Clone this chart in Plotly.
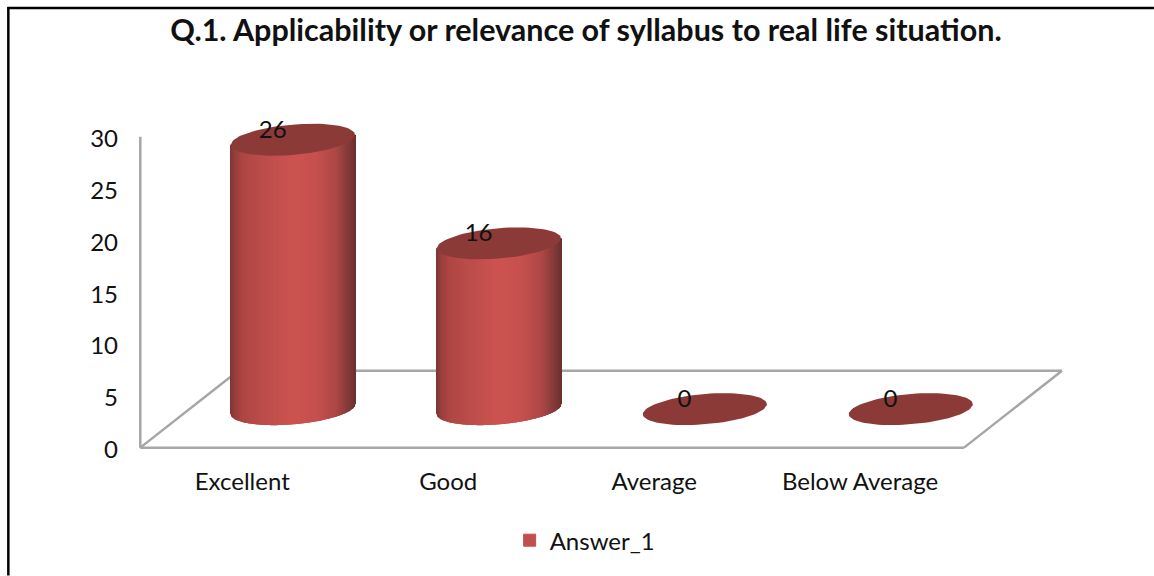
"""
Q.1 cylinder chart
"""

import numpy as np
import plotly.graph_objects as go

categories = ['Excellent', 'Good', 'Average', 'Below Average']
answer_1 = [26, 16, 0, 0]
y_ticks = [0, 5, 10, 15, 20, 25, 30]
title = 'Q.1. Applicability or relevance of syllabus to real life situation.'
series_name = 'Answer_1'

W, H = 1154, 576
FONT = 'Lato'
GREY = '#a6a6a6'
TEXT = '#111111'

#> Pixel scale of the axes
PX_X = 206.0   # one category
PX_Y = 10.37   # one unit
X0_PX = 140 + 0.5 * PX_X  # category 0
Y0_PX = 448

#> Fake depth of the floor, in data units
DX = 98 / PX_X
DY = 77 / PX_Y

#> Cylinder ellipse, in data units
RX = 62 / PX_X
SLANT = 5 / PX_Y
RY = 15.2 / PX_Y
CX_NUDGE = 0.7 / PX_X

x_range = [-0.55, 4.0]
y_range = [-1.0, 32.0]

fig = go.Figure()

#> Shading across the cylinder, left edge to right edge
SHADE_U = [-1.0, -0.93, -0.8, -0.4, 0.0, 0.4, 0.7, 0.9, 1.0]
SHADE_R = [125, 150, 175, 190, 205, 197, 172, 132, 108]
SHADE_G = [55, 62, 70, 78, 83, 80, 71, 58, 50]
SHADE_B = [55, 60, 68, 75, 80, 78, 69, 56, 48]


def shade(u):
    return 'rgb(%d,%d,%d)' % (np.interp(u, SHADE_U, SHADE_R),
                              np.interp(u, SHADE_U, SHADE_G),
                              np.interp(u, SHADE_U, SHADE_B))


for i, v in enumerate(answer_1):
    cx = i + DX / 2 + CX_NUDGE
    cy = DY / 2
    if v > 0:
        us = np.linspace(-1, 1, 125)
        base = cy + SLANT * us - RY * np.sqrt(1 - us ** 2)
        top = cy + v + SLANT * us
        fig.add_trace(go.Bar(
            x=cx + us * RX, y=top - base, base=base,
            width=1.5 / PX_X,
            marker=dict(color=[shade(u) for u in us], line=dict(width=0)),
            showlegend=False, hoverinfo='skip'))
    t = np.linspace(0, 2 * np.pi, 90)
    fig.add_trace(go.Scatter(
        x=cx + RX * np.cos(t), y=cy + v + SLANT * np.cos(t) + RY * np.sin(t),
        mode='lines', fill='toself', fillcolor='#8c3a38',
        line=dict(width=0), showlegend=False, hoverinfo='skip'))

#> Value labels sit up and left of each cylinder top
fig.add_trace(go.Scatter(
    x=[i + DX / 2 - 0.095 for i in range(len(answer_1))],
    y=[v + DY / 2 + 0.77 for v in answer_1],
    text=[str(v) for v in answer_1],
    mode='text', textposition='middle center',
    textfont=dict(family=FONT, size=24, color=TEXT),
    showlegend=False, hoverinfo='skip'))

#> Legend entry only
fig.add_trace(go.Bar(x=[None], y=[None], name=series_name,
                     marker=dict(color='#c0504d', line=dict(color='#c0504d', width=1))))

#> Wall and floor behind the bars
x_l, x_r = -0.5, len(categories) - 0.5
lines = [
    (x_l, 0, x_l, y_ticks[-1]),
    (x_l, 0, x_r, 0),
    (x_l, 0, x_l + DX, DY),
    (x_l + DX, DY, x_r + DX, DY),
    (x_r, 0, x_r + DX, DY),
]
shapes = [dict(type='line', xref='x', yref='y', layer='below',
               x0=a, y0=b, x1=c, y1=d, line=dict(color=GREY, width=2.5))
          for a, b, c, d in lines]

plot_l = X0_PX + (x_range[0]) * PX_X
plot_r = X0_PX + (x_range[1]) * PX_X
plot_t = Y0_PX - y_range[1] * PX_Y
plot_b = Y0_PX - y_range[0] * PX_Y


#> Outer frame, top and left only
def px2paper_x(p):
    return (p - plot_l) / (plot_r - plot_l)


def px2paper_y(p):
    return (plot_b - p) / (plot_b - plot_t)


shapes.append(dict(type='line', xref='paper', yref='paper',
                   x0=px2paper_x(8), x1=px2paper_x(8), y0=px2paper_y(7), y1=px2paper_y(H),
                   line=dict(color='#000000', width=2.5)))
shapes.append(dict(type='line', xref='paper', yref='paper',
                   x0=px2paper_x(7), x1=px2paper_x(W), y0=px2paper_y(8), y1=px2paper_y(8),
                   line=dict(color='#000000', width=2.5)))

fig.update_layout(
    width=W, height=H,
    margin=dict(l=plot_l, r=W - plot_r, t=plot_t, b=H - plot_b, autoexpand=False),
    paper_bgcolor='#ffffff', plot_bgcolor='#ffffff',
    barmode='overlay',
    shapes=shapes,
    title=dict(text='<b>%s</b>' % title, x=586 / W, xanchor='center',
               y=1 - 30 / H, yanchor='middle',
               font=dict(family=FONT, size=30.5, color=TEXT)),
    legend=dict(orientation='h', x=px2paper_x(585), xanchor='center',
                y=px2paper_y(541), yanchor='middle',
                font=dict(family=FONT, size=24, color=TEXT),
                bgcolor='rgba(0,0,0,0)'),
    xaxis=dict(range=x_range, tickvals=list(range(len(categories))), ticktext=categories,
               showgrid=False, zeroline=False, showline=False, ticks='',
               ticklabelstandoff=7, ticklabelshift=-1,
               tickfont=dict(family=FONT, size=24, color=TEXT)),
    yaxis=dict(range=y_range, tickvals=y_ticks, showgrid=False, zeroline=False,
               showline=False, ticks='', ticklabelstandoff=11, ticklabelshift=2,
               tickfont=dict(family=FONT, size=24, color=TEXT)),
)

#> Drop the default page margin so the figure fills the window
fig.write_html("out.html", config=dict(displayModeBar=False),
               post_script="document.body.style.margin='0';document.body.style.overflow='hidden';")
